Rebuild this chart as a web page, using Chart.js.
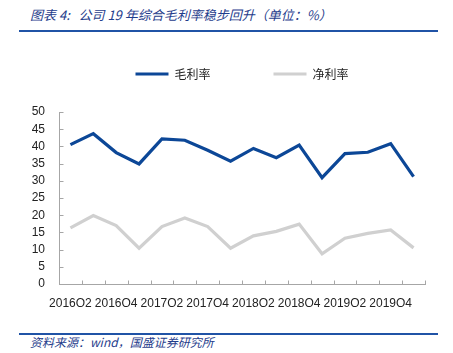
<!DOCTYPE html>
<html><head><meta charset="utf-8">
<script src="https://cdn.jsdelivr.net/npm/chart.js@4/dist/chart.umd.min.js"></script>
<style>
html,body{margin:0;padding:0;background:#fff;}
#wrap{position:relative;width:453px;height:353px;overflow:hidden;}
.t{position:absolute;font-family:"Noto Sans CJK SC","Liberation Sans",sans-serif;font-style:italic;color:#1f3d8c;white-space:nowrap;}
.rule{position:absolute;left:19px;width:419px;height:2px;background:#2053a6;}
#cbox{position:absolute;left:0;top:0;width:453px;height:307px;}
</style></head><body>
<div id="wrap">
<div class="t" style="left:30px;top:6px;font-size:13px;line-height:18px;">图表 4:&nbsp;&nbsp; 公司 19 年综合毛利率稳步回升（单位：%）</div>
<div class="rule" style="top:30px;"></div>
<div id="cbox"><canvas id="c"></canvas></div>
<div class="rule" style="top:333px;"></div>
<div class="t" style="left:30px;top:334px;font-size:12px;line-height:16px;">资料来源：wind，国盛证券研究所</div>
</div>
<script>
const categories = ["2016Q2","2016Q3","2016Q4","2017Q1","2017Q2","2017Q3","2017Q4","2018Q1","2018Q2","2018Q3","2018Q4","2019Q1","2019Q2","2019Q3","2019Q4","2020Q1"];
const grossMargin = [40.5,43.7,38.2,34.9,42.2,41.8,38.9,35.7,39.4,36.7,40.4,30.9,37.9,38.3,40.8,31.2];
const netMargin = [16.3,19.9,17.0,10.4,16.7,19.2,16.7,10.4,14.0,15.3,17.4,8.8,13.3,14.7,15.7,10.5];
const yTicks = [0,5,10,15,20,25,30,35,40,45,50];

const AXIS = '#a6a6a6';
const inwardTicks = {
  id:'inwardTicks',
  afterDraw(chart){
    const ctx = chart.ctx, x = chart.scales.x, y = chart.scales.y;
    ctx.save();
    ctx.strokeStyle = AXIS; ctx.lineWidth = 1;
    const step = x.getPixelForValue(1) - x.getPixelForValue(0);
    const yb = Math.round(y.getPixelForValue(0)) + 0.5;
    for (let i = 0; i <= categories.length; i++) {
      const px = Math.round(x.getPixelForValue(i) - step/2) + 0.5;
      ctx.beginPath(); ctx.moveTo(px, yb); ctx.lineTo(px, yb - 4); ctx.stroke();
    }
    const xl = Math.round(x.left) + 0.5;
    yTicks.forEach(v => {
      const py = Math.round(y.getPixelForValue(v)) + 0.5;
      ctx.beginPath(); ctx.moveTo(xl, py); ctx.lineTo(xl + 4, py); ctx.stroke();
    });
    ctx.restore();
  }
};
const legendFit = {
  id:'legendFit',
  beforeInit(chart){
    const orig = chart.legend.fit;
    chart.legend.fit = function(){ orig.bind(chart.legend)(); this.height = 107; };
  }
};

new Chart(document.getElementById('c'), {
  type:'line',
  data:{
    labels: categories,
    datasets:[
      {label:'毛利率', data: grossMargin, borderColor:'#0c4797', backgroundColor:'#0c4797', borderWidth:3.2, pointRadius:0, tension:0},
      {label:'净利率', data: netMargin, borderColor:'#d0d0d0', backgroundColor:'#d0d0d0', borderWidth:3.2, pointRadius:0, tension:0}
    ]
  },
  options:{
    responsive:true, maintainAspectRatio:false, animation:false,
    layout:{padding:{top:5,right:28,left:0,bottom:0}},
    plugins:{
      tooltip:{enabled:false},
      legend:{
        fullSize:false,
        labels:{
          boxWidth:33, boxHeight:3, padding:63, color:'#222',
          font:{family:'"Noto Sans CJK SC", sans-serif', size:12},
          generateLabels(chart){
            return chart.data.datasets.map((d,i)=>({text:d.label, fillStyle:d.borderColor, strokeStyle:d.borderColor, lineWidth:0, datasetIndex:i, hidden:false, fontColor:'#222'}));
          }
        }
      }
    },
    scales:{
      x:{
        offset:true,
        grid:{display:false, drawTicks:false},
        border:{display:true, color:AXIS, width:1},
        ticks:{autoSkip:false, maxRotation:0, minRotation:0, padding:12, color:'#222',
          font:{family:'"Liberation Sans Narrow","Liberation Sans",sans-serif', size:12},
          callback:(v,i)=> i%2===0 ? categories[i] : ''},
        afterFit(s){ s.height = 23; }
      },
      y:{
        min:0, max:50,
        afterBuildTicks(s){ s.ticks = yTicks.map(v=>({value:v})); },
        grid:{display:false, drawTicks:false},
        border:{display:true, color:AXIS, width:1},
        ticks:{autoSkip:false, stepSize:5, padding:14, color:'#222', font:{family:'"Liberation Sans",sans-serif', size:12}},
        afterFit(s){ s.width = 59; }
      }
    }
  },
  plugins:[inwardTicks, legendFit]
});
</script>
</body></html>
